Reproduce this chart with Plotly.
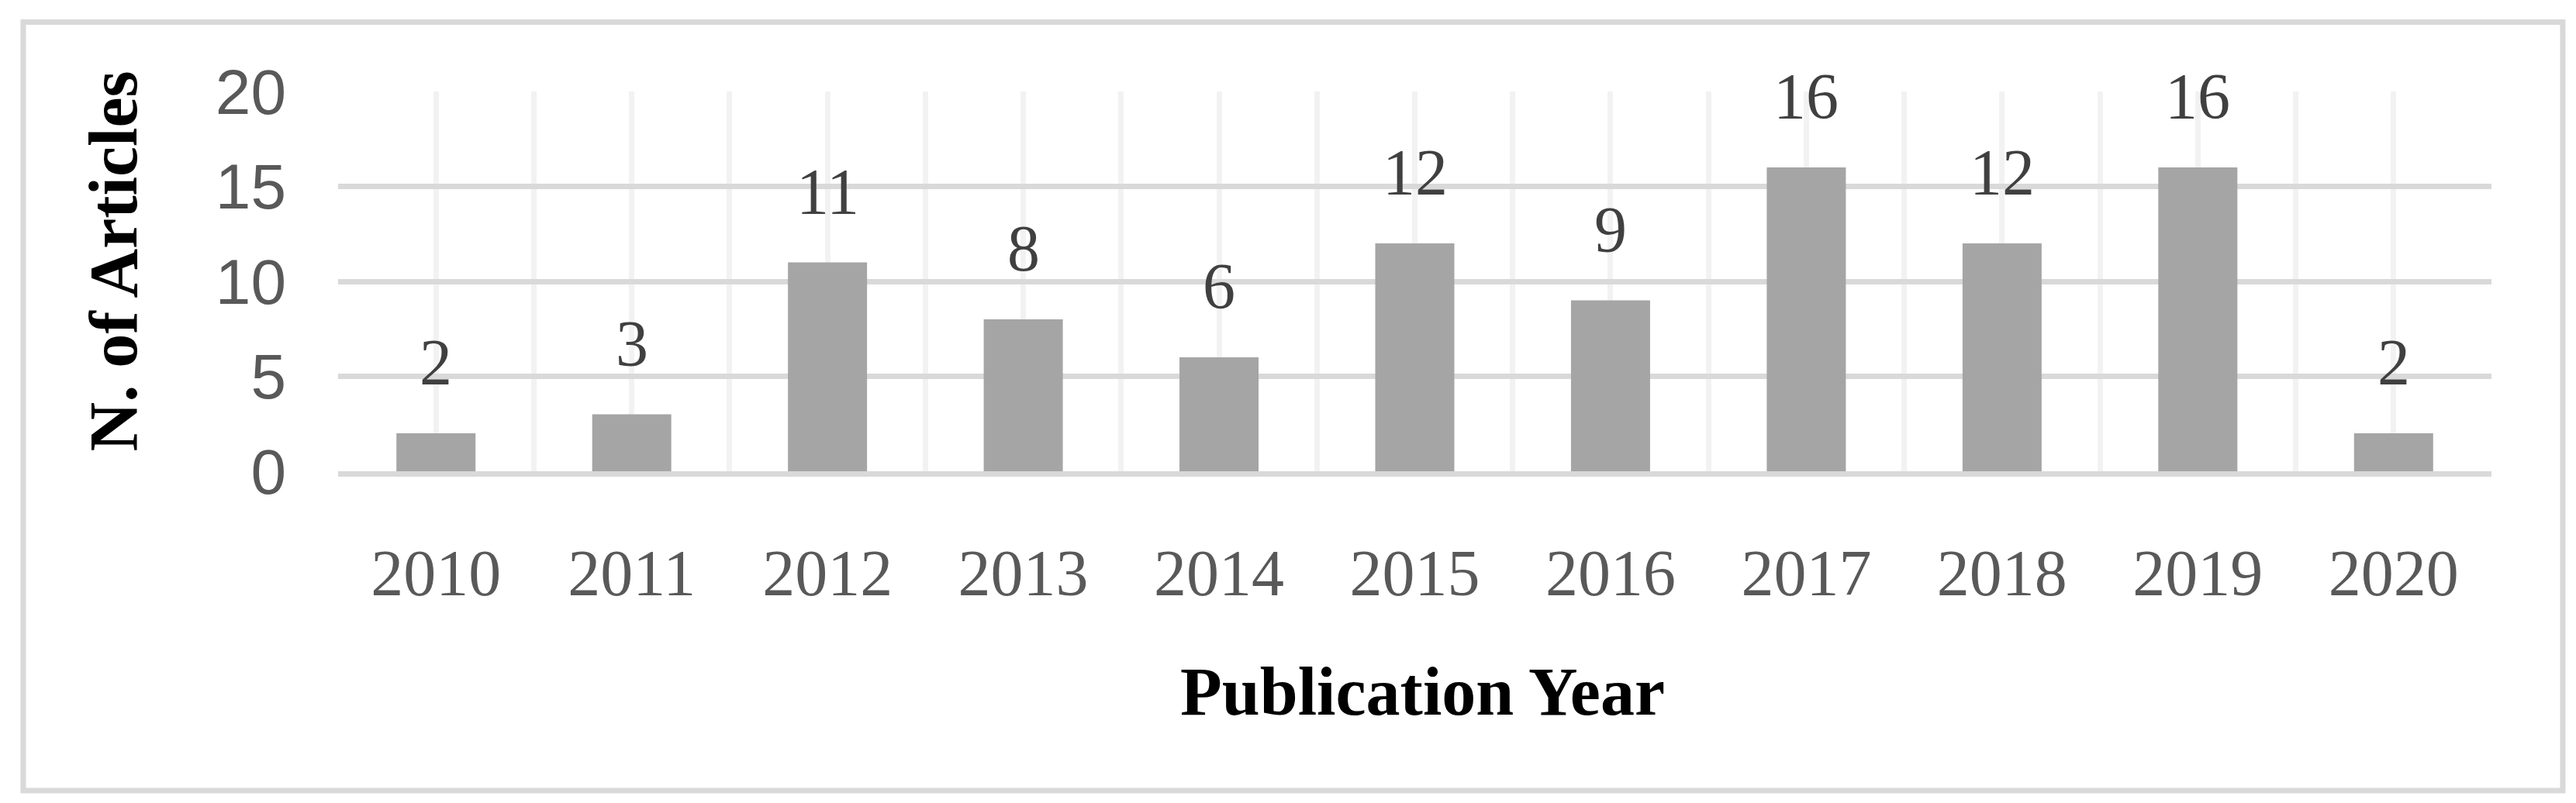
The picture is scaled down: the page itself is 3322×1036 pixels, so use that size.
import plotly.graph_objects as go

# data
years = [2010, 2011, 2012, 2013, 2014, 2015, 2016, 2017, 2018, 2019, 2020]
articles = [2, 3, 11, 8, 6, 12, 9, 16, 12, 16, 2]
y_ticks = [0, 5, 10, 15, 20]

x_title = "Publication Year"
y_title = "N. of Articles"

serif = "Liberation Serif"
sans = "Liberation Sans"
grid_dark = "#d9d9d9"
grid_light = "#f2f2f2"

fig = go.Figure()

fig.add_trace(go.Bar(
    x=years,
    y=articles,
    width=0.404,
    marker=dict(color="#a5a5a5", line=dict(width=0)),
    hoverinfo="x+y",
))

# value labels above the bars
for yr, n in zip(years, articles):
    fig.add_annotation(
        x=yr, y=n, text=str(n),
        showarrow=False, yanchor="bottom", yshift=43,
        font=dict(family=serif, size=84, color="#404040"),
    )

# axis titles
fig.add_annotation(
    xref="paper", yref="paper", x=-0.1043, y=0.553,
    text=f"<b>{y_title}</b>", textangle=-90, showarrow=False,
    xanchor="center", yanchor="middle",
    font=dict(family=serif, size=88, color="black"),
)
fig.add_annotation(
    xref="paper", yref="paper", x=0.5036, y=-0.58,
    text=f"<b>{x_title}</b>", showarrow=False,
    xanchor="center", yanchor="middle",
    font=dict(family=serif, size=88, color="black"),
)

# outer frame
fig.add_shape(
    type="rect", xref="paper", yref="paper",
    x0=-0.1462, x1=1.0331, y0=-0.8408, y1=1.1827,
    line=dict(color=grid_dark, width=7), fillcolor="rgba(0,0,0,0)",
    layer="below",
)

fig.update_xaxes(
    range=[years[0] - 0.5, years[-1] + 0.5],
    tickmode="linear", tick0=years[0], dtick=1,
    showgrid=True, gridcolor=grid_light, gridwidth=7,
    minor=dict(tick0=years[0] - 0.5, dtick=1, showgrid=True,
               gridcolor=grid_light, gridwidth=7),
    showline=True, linecolor=grid_dark, linewidth=7,
    zeroline=False, ticks="",
    ticklabelstandoff=52,
    tickfont=dict(family=serif, size=84, color="#595959"),
)
fig.update_yaxes(
    range=[0, 20],
    tickvals=y_ticks,
    showgrid=True, gridcolor=grid_dark, gridwidth=7,
    zeroline=False, showline=False, ticks="",
    ticklabelstandoff=66,
    tickfont=dict(family=sans, size=82, color="#595959"),
)

fig.update_layout(
    width=3322, height=1036,
    margin=dict(l=428, r=117, t=110, b=436),
    plot_bgcolor="white", paper_bgcolor="white",
    showlegend=False,
)

fig.write_html("out.html")
